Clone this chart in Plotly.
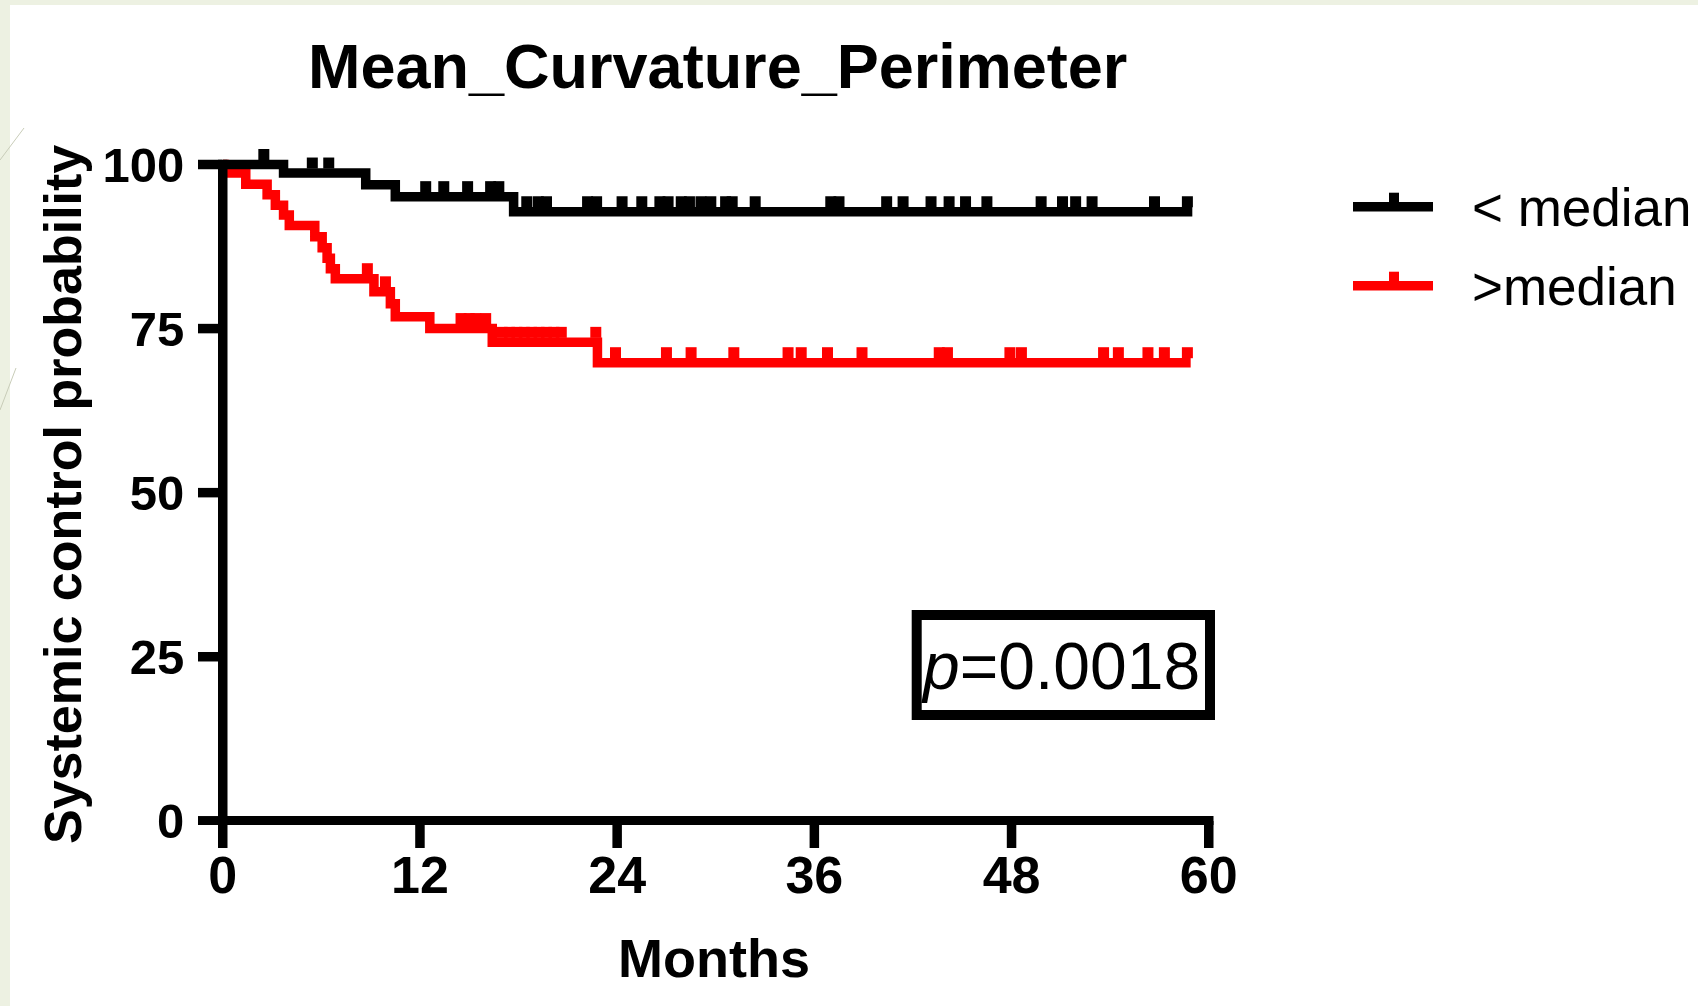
import plotly.graph_objects as go

# ---------------- data ----------------
x_tick_vals = [0, 12, 24, 36, 48, 60]
y_tick_vals = [0, 25, 50, 75, 100]

black_name = "< median"
black_event_months = [3.7, 8.7, 10.5, 17.7]
black_levels = [98.7, 96.9, 95.1, 92.8]
black_censor_months = [2.5, 5.45, 6.45, 12.35, 13.45, 14.9, 16.3, 16.8, 18.5, 19.2, 19.7,
                       22.2, 22.75, 24.3, 25.5, 26.6, 27.1, 27.9, 28.4, 29.1, 29.7, 30.6,
                       31.0, 32.4, 37.0, 37.5, 40.4, 41.4, 43.1, 44.2, 45.2, 46.5, 49.8,
                       51.1, 51.9, 52.9, 56.7, 58.7]
black_end = 59.0

red_name = ">median"
red_event_months = [0.1, 1.4, 2.7, 3.2, 3.7, 4.05, 5.6, 6.05, 6.35, 6.55, 6.85, 9.2,
                    10.2, 10.5, 12.6, 16.4, 22.8]
red_levels = [98.7, 97.0, 95.4, 93.8, 92.3, 90.7, 89.0, 87.3, 85.7, 84.1, 82.6, 80.6,
              78.8, 76.8, 75.0, 72.9, 69.8]
red_censor_months = [8.8, 9.9, 14.5, 15.0, 15.4, 16.0, 17.0, 17.45, 17.9, 18.35, 18.8,
                     19.25, 19.7, 20.15, 20.6, 22.7, 23.9, 27.0, 28.5, 31.1, 34.4, 35.2,
                     36.8, 38.9, 43.6, 44.1, 47.9, 48.6, 53.6, 54.5, 56.3, 57.3, 58.7]
red_end = 58.9

title_text = "Mean_Curvature_Perimeter"
x_title = "Months"
y_title = "Systemic control probability"
p_text = "<i>p</i>=0.0018"

# ---------------- layout geometry ----------------
W, H = 1698, 1006
ML, MR, MT, MB = 218, 482, 150, 181
PW, PH = W - ML - MR, H - MT - MB
LW = 9.5  # stroke width of curves / axes

PX_PER_MONTH = 986.0 / 60.0
X_MIN = -(LW / 2) / PX_PER_MONTH
X_MAX = X_MIN + PW / PX_PER_MONTH
PX_PER_UNIT = 656.3 / 100.0
Y_MAX = 100 + (164.5 - MT) / PX_PER_UNIT
Y_MIN = Y_MAX - PH / PX_PER_UNIT

BUMP_PX = 10.0   # censor tick sits above the line
BUMP_SIZE = 11


def pxx(x):
    return (x - ML) / PW


def pxy(y):
    return 1 - (y - MT) / PH


def level_at(times, levels, t):
    val = 100.0
    for tt, lv in zip(times, levels):
        if tt <= t:
            val = lv
    return val


FONT = "Liberation Sans, Arial, sans-serif"
BLACK = "#000000"
RED = "#ff0000"

fig = go.Figure()

for name, ev, lv, cens, end, col in [
    (red_name, red_event_months, red_levels, red_censor_months, red_end, RED),
    (black_name, black_event_months, black_levels, black_censor_months, black_end, BLACK),
]:
    xs = [0] + ev + [end]
    ys = [100] + lv + [lv[-1]]
    fig.add_trace(go.Scatter(x=xs, y=ys, mode="lines", line=dict(color=col, width=LW, shape="hv"),
                             name=name, showlegend=False, hoverinfo="skip"))
    cy = [level_at(ev, lv, t) + BUMP_PX / PX_PER_UNIT for t in cens]
    fig.add_trace(go.Scatter(x=cens, y=cy, mode="markers", cliponaxis=False,
                             marker=dict(symbol="square", size=BUMP_SIZE, color=col, line=dict(width=0)),
                             showlegend=False, hoverinfo="skip"))

shapes = []
# background strips of the slide
shapes.append(dict(type="rect", xref="paper", yref="paper", x0=pxx(0), x1=pxx(10), y0=pxy(0), y1=pxy(H),
                   fillcolor="#edf1e2", line=dict(width=0), layer="below"))
shapes.append(dict(type="rect", xref="paper", yref="paper", x0=pxx(0), x1=pxx(W), y0=pxy(0), y1=pxy(5),
                   fillcolor="#edf1e2", line=dict(width=0), layer="below"))
shapes.append(dict(type="line", xref="paper", yref="paper", x0=pxx(0), y0=pxy(160), x1=pxx(24), y1=pxy(128),
                   line=dict(color="#c8ccb8", width=1)))
shapes.append(dict(type="line", xref="paper", yref="paper", x0=pxx(0), y0=pxy(410), x1=pxx(16), y1=pxy(368),
                   line=dict(color="#c8ccb8", width=1)))
# axis lines
shapes.append(dict(type="line", xref="x", yref="y", x0=0, x1=0, y0=Y_MIN, y1=100 + (LW / 2) / PX_PER_UNIT,
                   line=dict(color=BLACK, width=LW)))
shapes.append(dict(type="line", xref="x", yref="y", x0=X_MIN, x1=60 + (LW / 2) / PX_PER_MONTH, y0=0, y1=0,
                   line=dict(color=BLACK, width=LW)))
# tick marks
for v in y_tick_vals:
    shapes.append(dict(type="line", xref="paper", yref="y", x0=pxx(198), x1=pxx(222), y0=v, y1=v,
                       line=dict(color=BLACK, width=LW)))
for v in x_tick_vals:
    shapes.append(dict(type="line", xref="x", yref="paper", x0=v, x1=v, y0=pxy(821), y1=pxy(848),
                       line=dict(color=BLACK, width=LW)))
# legend samples
for yc, col in [(206.7, BLACK), (285.7, RED)]:
    shapes.append(dict(type="line", xref="paper", yref="paper", x0=pxx(1353), x1=pxx(1433), y0=pxy(yc), y1=pxy(yc),
                       line=dict(color=col, width=LW)))
    shapes.append(dict(type="rect", xref="paper", yref="paper", x0=pxx(1389), x1=pxx(1399),
                       y0=pxy(yc - 4), y1=pxy(yc - 14), fillcolor=col, line=dict(width=0)))
# p-value box
shapes.append(dict(type="rect", xref="paper", yref="paper", x0=pxx(916.7), x1=pxx(1210), y0=pxy(615), y1=pxy(715),
                   line=dict(color=BLACK, width=10), fillcolor="rgba(0,0,0,0)"))

annotations = [
    dict(text=title_text, x=pxx(717), y=pxy(66), xref="paper", yref="paper", showarrow=False,
         xanchor="center", yanchor="middle", font=dict(family=FONT, size=63, color=BLACK, weight="bold")),
    dict(text=x_title, x=pxx(714), y=pxy(958), xref="paper", yref="paper", showarrow=False,
         xanchor="center", yanchor="middle", font=dict(family=FONT, size=54, color=BLACK, weight="bold")),
    dict(text=y_title, x=pxx(63), y=pxy(495), xref="paper", yref="paper", showarrow=False, textangle=-90,
         xanchor="center", yanchor="middle", font=dict(family=FONT, size=52, color=BLACK, weight="bold")),
    dict(text=black_name, x=pxx(1470), y=pxy(207.5), xref="paper", yref="paper", showarrow=False,
         xanchor="left", yanchor="middle", font=dict(family=FONT, size=53, color=BLACK)),
    dict(text=red_name, x=pxx(1470), y=pxy(286.5), xref="paper", yref="paper", showarrow=False,
         xanchor="left", yanchor="middle", font=dict(family=FONT, size=53, color=BLACK)),
    dict(text=p_text, x=pxx(1060), y=pxy(666), xref="paper", yref="paper", showarrow=False,
         xanchor="center", yanchor="middle", font=dict(family=FONT, size=66, color=BLACK)),
]

fig.update_layout(
    width=W, height=H,
    margin=dict(l=ML, r=MR, t=MT, b=MB, pad=0),
    paper_bgcolor="white", plot_bgcolor="white",
    showlegend=False,
    shapes=shapes, annotations=annotations,
    xaxis=dict(range=[X_MIN, X_MAX], tickvals=x_tick_vals, ticktext=[str(v) for v in x_tick_vals],
               showgrid=False, zeroline=False, showline=False,
               ticks="outside", ticklen=5, tickwidth=1, tickcolor="rgba(0,0,0,0)",
               tickfont=dict(family=FONT, size=52, color=BLACK, weight="bold")),
    yaxis=dict(range=[Y_MIN, Y_MAX], tickvals=y_tick_vals, ticktext=[str(v) for v in y_tick_vals],
               showgrid=False, zeroline=False, showline=False,
               ticks="outside", ticklen=23, tickwidth=1, tickcolor="rgba(0,0,0,0)",
               tickfont=dict(family=FONT, size=49, color=BLACK, weight="bold")),
)

fig.write_html("out.html")
